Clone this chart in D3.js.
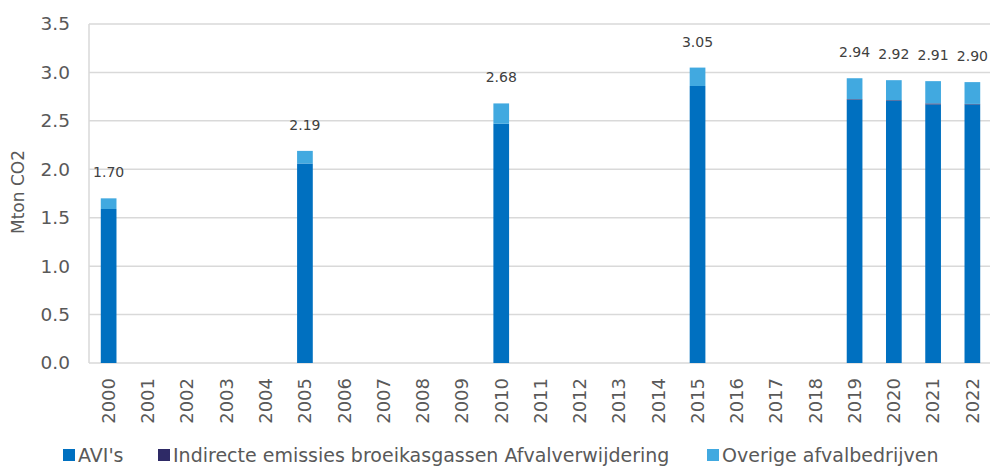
<!DOCTYPE html>
<html>
<head>
<meta charset="utf-8">
<script src="https://cdn.jsdelivr.net/npm/d3@7"></script>
<style>
  body { margin: 0; background: #fff; }
  svg { display: block; font-family: "DejaVu Sans", sans-serif; }
</style>
</head>
<body>
<svg id="chart" width="990" height="468"></svg>
<script>
// data
var years = ["2000","2001","2002","2003","2004","2005","2006","2007","2008","2009","2010",
             "2011","2012","2013","2014","2015","2016","2017","2018","2019","2020","2021","2022"];
var avi      = [1.59,0,0,0,0,2.06,0,0,0,0,2.47,0,0,0,0,2.86,0,0,0,2.72,2.71,2.67,2.67];
var indirect = [0,0,0,0,0,0,0,0,0,0,0,0,0,0,0,0,0,0,0,0.005,0.005,0.01,0.005];
var overige  = [0.11,0,0,0,0,0.13,0,0,0,0,0.21,0,0,0,0,0.19,0,0,0,0.215,0.205,0.23,0.225];
var totals   = ["1.70","","","","","2.19","","","","","2.68","","","","","3.05","","","","2.94","2.92","2.91","2.90"];
var yTicks   = [0, 0.5, 1, 1.5, 2, 2.5, 3, 3.5];

var keys = ["avi", "indirect", "overige"];
var names = { avi: "AVI's", indirect: "Indirecte emissies broeikasgassen Afvalverwijdering", overige: "Overige afvalbedrijven" };
var colors = { avi: "#0070C0", indirect: "#2E2A66", overige: "#41A9E0" };

var svg = d3.select("#chart");
var plotLeft = 89, plotRight = 992, plotTop = 24, plotBottom = 363;

var P_data = years.map(function(y, i) {
    return { year: y, avi: avi[i], indirect: indirect[i], overige: overige[i], label: totals[i] };
});

var xScale = d3.scaleBand()
    .domain(years)
    .range([plotLeft, plotRight])
    .paddingInner(0.6)
    .paddingOuter(0.3);

var yScale = d3.scaleLinear()
    .domain([0, 3.5])
    .range([plotBottom, plotTop]);

// grid lines
svg.append("g")
   .selectAll("line")
   .data(yTicks)
   .enter().append("line")
   .attr("x1", plotLeft)
   .attr("x2", plotRight)
   .attr("y1", function(d) { return yScale(d); })
   .attr("y2", function(d) { return yScale(d); })
   .attr("stroke", "#d9d9d9")
   .attr("stroke-width", 1.5);

// left axis line
svg.append("line")
   .attr("x1", plotLeft).attr("x2", plotLeft)
   .attr("y1", plotTop).attr("y2", plotBottom)
   .attr("stroke", "#d9d9d9")
   .attr("stroke-width", 1.5);

// y axis tick labels
var yAxis = d3.axisLeft(yScale)
    .tickValues(yTicks)
    .tickFormat(d3.format(".1f"))
    .tickSize(0)
    .tickPadding(19);

var yg = svg.append("g")
    .attr("transform", "translate(" + plotLeft + ",0)")
    .call(yAxis);
yg.select(".domain").remove();
yg.selectAll("text")
  .attr("font-family", "DejaVu Sans, sans-serif")
  .attr("font-size", "18.5px")
  .attr("fill", "#595959");

// x axis labels, rotated
var xAxis = d3.axisBottom(xScale).tickSize(0).tickPadding(0);
var xg = svg.append("g")
    .attr("transform", "translate(0," + plotBottom + ")")
    .call(xAxis);
xg.select(".domain").remove();
xg.selectAll("text")
  .attr("font-family", "DejaVu Sans, sans-serif")
  .attr("font-size", "18px")
  .attr("fill", "#595959")
  .attr("transform", "rotate(-90)")
  .attr("text-anchor", "end")
  .attr("x", -15)
  .attr("y", 0)
  .attr("dy", "0.35em");

// y axis title
svg.append("text")
   .attr("transform", "translate(24,192) rotate(-90)")
   .attr("text-anchor", "middle")
   .attr("font-size", "17px")
   .attr("fill", "#595959")
   .text("Mton CO2");

// stacked bars
var stacked = d3.stack().keys(keys)(P_data);

svg.append("g")
   .selectAll("g")
   .data(stacked)
   .enter().append("g")
   .attr("fill", function(d) { return colors[d.key]; })
   .selectAll("rect")
   .data(function(d) { return d; })
   .enter().append("rect")
   .attr("x", function(d) { return xScale(d.data.year); })
   .attr("width", xScale.bandwidth())
   .attr("y", function(d) { return yScale(d[1]); })
   .attr("height", function(d) { return yScale(d[0]) - yScale(d[1]); });

// total labels
svg.append("g")
   .selectAll("text")
   .data(P_data.filter(function(d) { return d.label !== ""; }))
   .enter().append("text")
   .attr("x", function(d) { return xScale(d.year) + xScale.bandwidth() / 2; })
   .attr("y", function(d) { return yScale(d.avi + d.indirect + d.overige) - 21; })
   .attr("text-anchor", "middle")
   .attr("font-size", "14px")
   .attr("fill", "#404040")
   .text(function(d) { return d.label; });

// legend
var legendX = { avi: 63, indirect: 158, overige: 707 };
var legend = svg.append("g")
    .selectAll("g")
    .data(keys)
    .enter().append("g")
    .attr("transform", function(d) { return "translate(" + legendX[d] + ",449)"; });

legend.append("rect")
   .attr("width", 12)
   .attr("height", 12)
   .attr("fill", function(d) { return colors[d]; });

legend.append("text")
   .attr("x", 15)
   .attr("y", 6)
   .attr("dy", "0.36em")
   .attr("font-size", "19px")
   .attr("fill", "#595959")
   .text(function(d) { return names[d]; });
</script>
</body>
</html>
